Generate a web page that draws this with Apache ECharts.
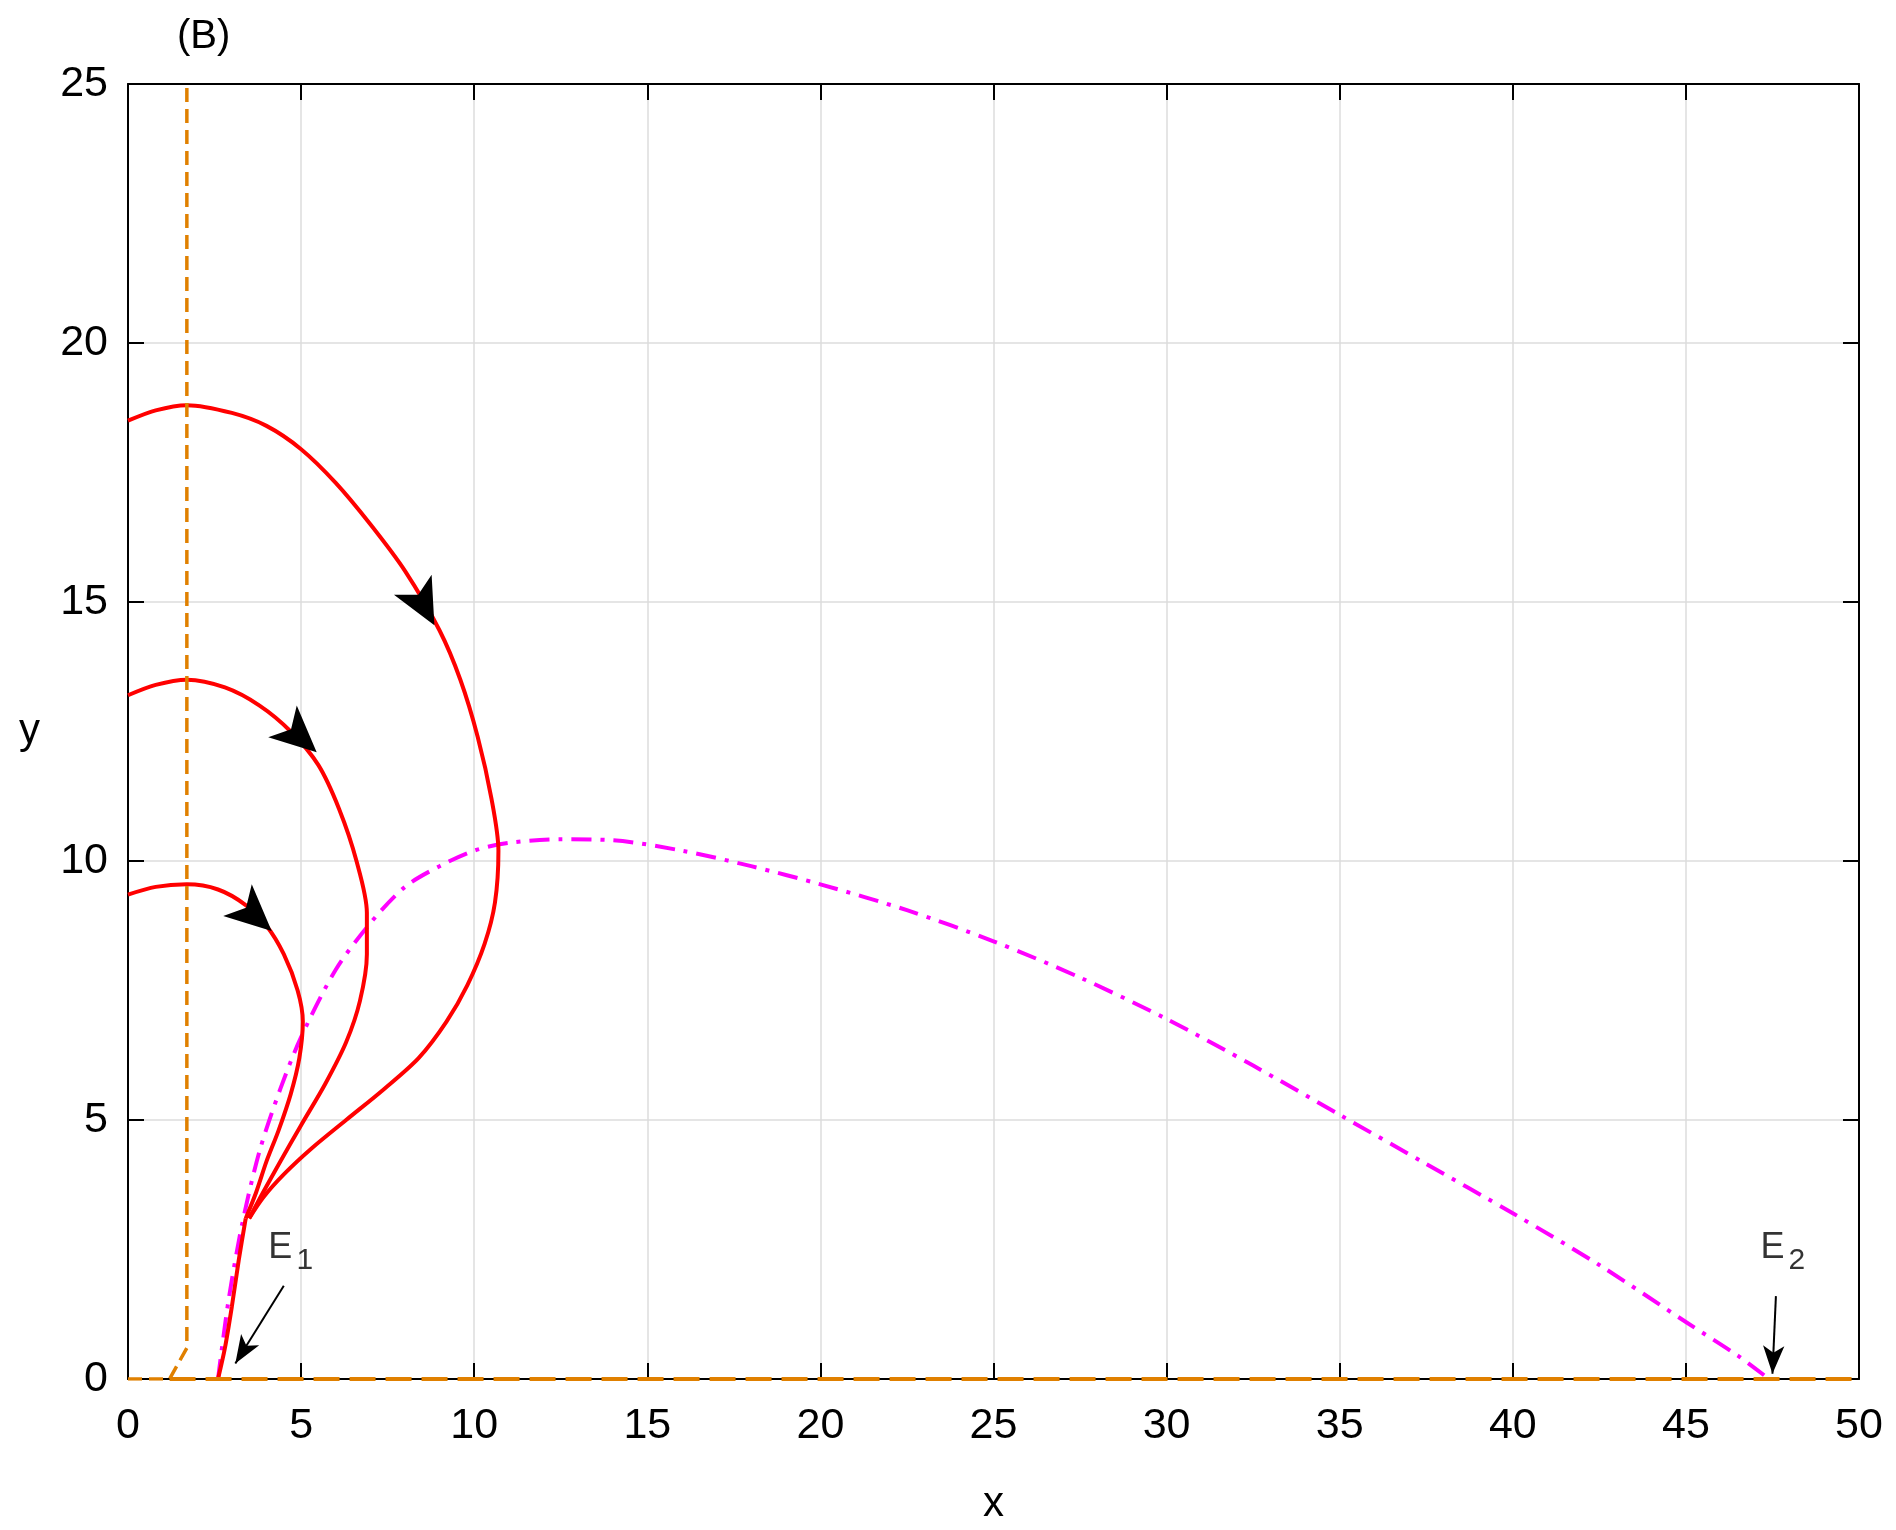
<!DOCTYPE html>
<html><head><meta charset="utf-8">
<script src="https://cdn.jsdelivr.net/npm/echarts@6/dist/echarts.min.js"></script>
<style>html,body{margin:0;background:#fff}#c{width:1896px;height:1530px}</style>
</head><body><div id="c"></div>
<script>
const traj1 = [[0,18.5],[0.8,18.7],[1.7,18.8],[3,18.65],[4,18.4],[5,17.95],[6,17.3],[7,16.5],[8,15.6],[9,14.45],[9.6,13.5],[10.1,12.4],[10.5,11.2],[10.7,10.2],[10.6,9.2],[10.3,8.4],[9.8,7.6],[9.2,6.9],[8.4,6.2],[7.4,5.6],[6.3,5],[5.3,4.45],[4.5,3.95],[3.9,3.5],[3.5,3.1]];
const traj2 = [[0,13.2],[0.8,13.4],[1.7,13.5],[2.8,13.35],[3.8,13],[4.7,12.5],[5.5,11.85],[6.1,11],[6.6,10],[6.9,9],[6.9,8.2],[6.7,7.3],[6.3,6.5],[5.7,5.7],[5,4.9],[4.4,4.2],[3.9,3.6],[3.5,3.1]];
const traj3 = [[0,9.35],[0.8,9.5],[1.7,9.55],[2.6,9.45],[3.4,9.15],[4,8.75],[4.5,8.2],[4.9,7.5],[5.05,6.9],[4.95,6.2],[4.7,5.5],[4.35,4.8],[4,4.2],[3.7,3.6],[3.4,3.1]];
const tail = [[3.4,3.1],[3.2,2.3],[3,1.4],[2.8,0.6],[2.6,0]];
const nullcline = [[2.6,0],[2.9,1.5],[3.3,3],[3.8,4.4],[4.4,5.6],[5,6.6],[6,7.9],[7,8.8],[8,9.5],[9,9.9],[10,10.2],[11,10.35],[12.5,10.42],[14,10.4],[16,10.2],[18,9.9],[20,9.55],[22.5,9.05],[25,8.45],[27.5,7.75],[30,6.95],[32.5,6.05],[35,5.1],[37.5,4.15],[40,3.2],[42.5,2.2],[45,1.1],[46.5,0.45],[47.4,0]];
const vert = [[0,0],[1.2,0],[1.7,0.6],[1.7,25]];
const xAxisLine = [[1.2,0],[50,0]];
const arrows = [[8.85,14.55,-152],[5.45,12.1,-132],[4.15,8.65,-132]];
const eqLabels = [[4.7,1.9,'1'],[47.8,1.9,'2']];
const eqArrows = [[[4.5,1.8],[3.1,0.3]],[[47.6,1.6],[47.5,0.1]]];

const F = 'Liberation Sans';
const red = '#ff0000', mag = '#ff00ff', org = '#e08000';
const chart = echarts.init(document.getElementById('c'));
const frame = {show:true,onZero:false,lineStyle:{color:'#000',width:2}};
const tick = {inside:true,length:16,lineStyle:{color:'#000',width:2}};
const redLine = d => ({type:'line',data:d,symbol:'none',smooth:0.3,lineStyle:{color:red,width:4},z:3});
chart.setOption({
  animation:false,
  textStyle:{fontFamily:F},
  title:{text:'(B)',left:172,top:12,textStyle:{fontFamily:F,fontSize:40,fontWeight:'normal',color:'#000'}},
  grid:{left:128,right:37,top:84,bottom:147},
  xAxis:[
    {type:'value',min:0,max:50,interval:5,name:'x',nameLocation:'middle',nameGap:104,
     nameTextStyle:{fontSize:42,color:'#000'},axisLine:frame,axisTick:tick,
     axisLabel:{fontSize:43,color:'#000',margin:26},splitLine:{lineStyle:{color:'#dcdcdc',width:1.5}}},
    {type:'value',min:0,max:50,interval:5,position:'top',axisLine:frame,axisTick:tick,axisLabel:{show:false},splitLine:{show:false}}
  ],
  yAxis:[
    {type:'value',min:0,max:25,interval:5,name:'y',nameLocation:'middle',nameGap:88,nameRotate:0,
     nameTextStyle:{fontSize:42,color:'#000'},axisLine:frame,axisTick:tick,
     axisLabel:{fontSize:43,color:'#000',margin:20},splitLine:{lineStyle:{color:'#dcdcdc',width:1.5}}},
    {type:'value',min:0,max:25,interval:5,position:'right',axisLine:frame,axisTick:tick,axisLabel:{show:false},splitLine:{show:false}}
  ],
  series:[
    {type:'line',data:xAxisLine,symbol:'none',lineStyle:{color:org,width:4,type:[26,10]},z:4},
    {type:'line',data:vert,symbol:'none',lineStyle:{color:org,width:3.5,type:[14,7]},z:4},
    {type:'line',data:nullcline,symbol:'none',smooth:0.3,lineStyle:{color:mag,width:4,type:[20,9,4,9]},z:2},
    redLine(traj1),redLine(traj2),redLine(traj3),
    {type:'line',data:tail,symbol:'none',smooth:0.3,lineStyle:{color:red,width:4},z:3},
    {type:'scatter',data:arrows.map(a=>({value:[a[0],a[1]],symbolRotate:a[2]})),symbol:'arrow',symbolSize:[32,46],itemStyle:{color:'#000',opacity:1},z:6},
    {type:'scatter',data:eqLabels.map(e=>({value:[e[0],e[1]],sub:e[2]})),symbolSize:0,
     label:{show:true,position:'top',formatter:p=>'{a|E}{b|'+p.data.sub+'}',
       rich:{a:{fontSize:36,color:'#000',fontFamily:F},b:{fontSize:30,color:'#000',fontFamily:F,padding:[26,0,0,4]}}}},
    {type:'line',data:[],markLine:{silent:true,symbol:['none','arrow'],symbolSize:[16,28],label:{show:false},
      lineStyle:{color:'#000',width:2,type:'solid'},
      data:eqArrows.map(a=>[{coord:a[0]},{coord:a[1]}])}}
  ]
});
</script></body></html>
